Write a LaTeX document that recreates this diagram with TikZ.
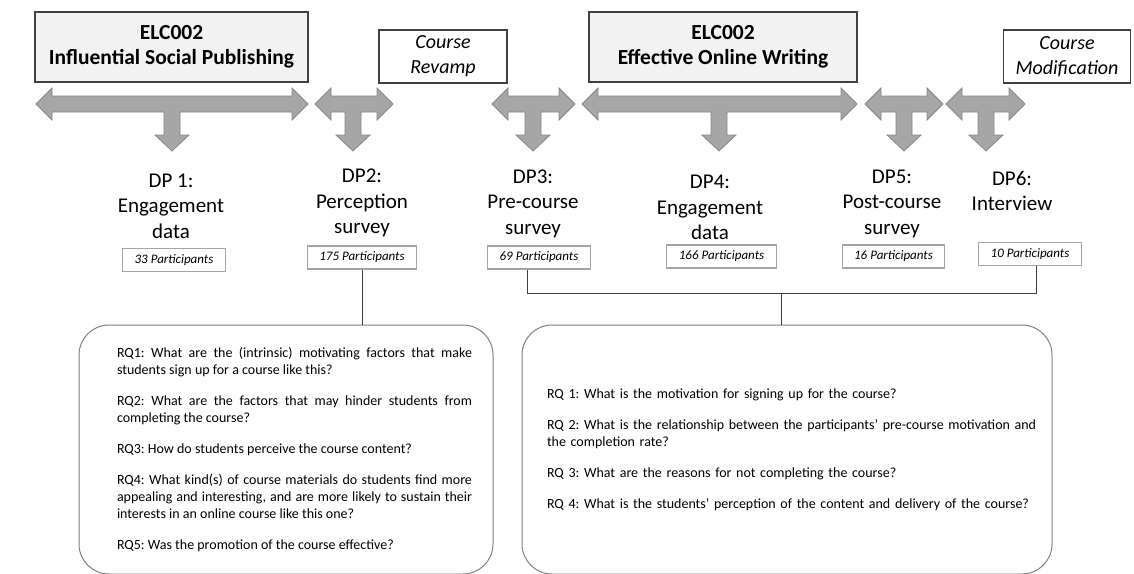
\documentclass[tikz,border=0pt]{standalone}
\usepackage{fontspec}
\setmainfont{Carlito}
\frenchspacing
\definecolor{arrowGray}{RGB}{166,166,166}
\definecolor{arrowEdge}{RGB}{135,135,135}
\definecolor{boxFill}{RGB}{242,242,242}
\definecolor{lineDark}{RGB}{64,64,64}
\definecolor{partEdge}{RGB}{165,165,165}
\definecolor{rqEdge}{RGB}{128,128,128}

\begin{document}
\begin{tikzpicture}[x=1pt, y=-1pt, every node/.style={align=center},
  coursebox/.style={draw=lineDark, line width=1.3pt, fill=boxFill, minimum height=70, font=\fontsize{21.5}{25}\selectfont\bfseries},
  notebox/.style={draw=lineDark, line width=1.1pt, fill=white, minimum height=53, font=\fontsize{20}{25}\selectfont\itshape},
  dplabel/.style={font=\fontsize{21}{25.5}\selectfont},
  partbox/.style={draw=partEdge, line width=1.2pt, minimum height=23, inner xsep=12, font=\fontsize{13}{15}\selectfont\itshape},
  rqbox/.style={draw=rqEdge, line width=1pt, rounded corners=30, minimum height=249, font=\fontsize{14}{17}\selectfont},
  link/.style={draw=lineDark, line width=1pt}]
\useasboundingbox (0,0) rectangle (1134,573);

% Course boxes
\node[coursebox, minimum width=273] (isp) at (171.5,47) {ELC002\\Influential Social Publishing};
\node[coursebox, minimum width=268] (eow) at (723,47) {ELC002\\Effective Online Writing};
\node[notebox, minimum width=128] (revamp) at (443,56.5) {Course\\Revamp};
\node[notebox, minimum width=127] (modif) at (1067,56.5) {Course\\Modification};

% T arrows (left tip / right tip / stem)
\foreach \l/\r/\s in {36/308/172, 315/393/353, 492/575/533, 582/857/719, 865/943/904, 946/1025/986}
  \filldraw[fill=arrowGray, draw=arrowEdge, line width=0.8pt]
    (\l,104) -- (\l+16,88) -- (\l+16,96) -- (\r-16,96) -- (\r-16,88) -- (\r,104)
    -- (\r-16,120) -- (\r-16,112) -- (\s+8,112) -- (\s+8,135) -- (\s+17,135) -- (\s,151)
    -- (\s-17,135) -- (\s-8,135) -- (\s-8,112) -- (\l+16,112) -- (\l+16,120) -- cycle;

% Data points
\node[dplabel] (dp1) at (171,206) {DP 1:\\Engagement\\data};
\node[dplabel] (dp2) at (362,203) {DP2:\\Perception\\survey};
\node[dplabel] (dp3) at (533,203.5) {DP3:\\Pre-course\\survey};
\node[dplabel] (dp4) at (710,207.5) {DP4:\\Engagement\\data};
\node[dplabel] (dp5) at (892,203.5) {DP5:\\Post-course\\survey};
\node[dplabel] (dp6) at (1012,191) {DP6:\\Interview};

% Participants
\node[partbox] (p1) at (174,260) {33 Participants};
\node[partbox] (p2) at (362,257.5) {175 Participants};
\node[partbox] (p3) at (539,257.5) {69 Participants};
\node[partbox] (p4) at (721.5,256.5) {166 Participants};
\node[partbox] (p5) at (893.5,256.5) {16 Participants};
\node[partbox] (p6) at (1030,254) {10 Participants};

% Research questions
\node[rqbox, minimum width=414, text width=372, align=justify] (rq1) at (286,449.5) {\leftskip=17pt\parindent=0pt\parskip=14pt\hyphenpenalty=10000\emergencystretch=2em
RQ1: What are the (intrinsic) motivating factors that make students sign up for a course like this?\par
RQ2: What are the factors that may hinder students from completing the course?\par
RQ3: How do students perceive the course content?\par
RQ4: What kind(s) of course materials do students find more appealing and interesting, and are more likely to sustain their interests in an online course like this one?\par
RQ5: Was the promotion of the course effective?\par};
\node[rqbox, minimum width=530, text width=516, align=left] (rq2) at (787,449.5) {\leftskip=18pt\parindent=0pt\parskip=14pt
RQ 1: What is the motivation for signing up for the course?\par
RQ 2: What is the relationship between the participants’ pre-course motivation and\\the completion rate?\par
RQ 3: What are the reasons for not completing the course?\par
RQ 4: What is the students’ perception of the content and delivery of the course?\par};

% Links
\draw[link] (p2.south) -- (p2.south |- rq1.north);
\draw[link] ([xshift=-12]p3.south) -- ++(0,24) coordinate (bus) -| ([xshift=6]p6.south);
\coordinate (rqtop) at ([xshift=-6]rq2.north);
\draw[link] (rqtop |- bus) -- (rqtop);
\end{tikzpicture}
\end{document}
